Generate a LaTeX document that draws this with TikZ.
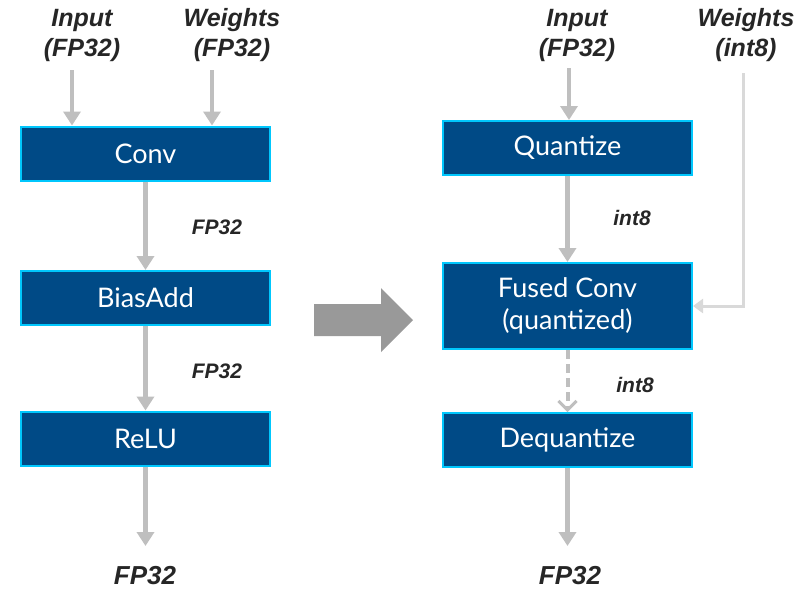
\documentclass[tikz,border=0pt]{standalone}
\usepackage{fontspec}
\setmainfont{Lato}
\newfontfamily\lblfont{Liberation Sans}
\usetikzlibrary{arrows.meta}
\definecolor{opblue}{HTML}{004A86}
\definecolor{opedge}{HTML}{00C7FD}
\definecolor{flowgray}{HTML}{BFBFBF}
\definecolor{wgray}{HTML}{D9D9D9}
\definecolor{bigray}{HTML}{999999}
\definecolor{lblink}{HTML}{262626}

\begin{document}
\begin{tikzpicture}[
  x=1pt, y=-1pt,
  op/.style    = {rectangle, draw=opedge, line width=2pt, fill=opblue,
                  text=white, font=\fontsize{27}{32}\selectfont, align=center,
                  minimum width=249pt, minimum height=54pt, inner sep=0pt},
  tag/.style   = {font=\lblfont\bfseries\itshape\fontsize{25}{30}\selectfont,
                  text=lblink, align=center, inner sep=0pt},
  midtag/.style= {tag, font=\lblfont\bfseries\itshape\fontsize{21}{24}\selectfont},
  endtag/.style= {tag, font=\lblfont\bfseries\itshape\fontsize{26}{30}\selectfont},
  flow/.style  = {-{Triangle[length=14pt,width=17pt]}, draw=flowgray, line width=4.5pt},
  wflow/.style = {-{Triangle[length=10pt,width=14pt]}, draw=wgray, line width=3pt},
  dflow/.style = {-{Straight Barb[length=9pt,width=18pt,line width=3pt]}, draw=flowgray,
                  line width=4pt, dash pattern=on 9pt off 5pt},
]
\useasboundingbox (0,0) rectangle (811,590);

% FP32 graph
\node[tag] (inl) at (82,35)  {Input\\(FP32)};
\node[tag] (wl)  at (232,35) {Weights\\(FP32)};
\node[op] (conv) at (145.5,153.5) {Conv};
\node[op] (bias) at (145.5,298)   {BiasAdd};
\node[op] (relu) at (145.5,438.5) {ReLU};
\node[midtag] (t1) at (217,227) {FP32};
\node[midtag] (t2) at (217,371) {FP32};
\node[endtag] (outl) at (145,576) {FP32};
\coordinate (a1) at (72,70);
\coordinate (a2) at (212,70);
\coordinate (a3) at (145.5,546);
\draw[flow] (a1) -- (a1 |- conv.north);
\draw[flow] (a2) -- (a2 |- conv.north);
\draw[flow] (conv) -- (bias);
\draw[flow] (bias) -- (relu);
\draw[flow] (relu) -- (a3);

% big arrow
\fill[bigray] (314,304) -- (381,304) -- (381,288) -- (413,320) -- (381,352)
  -- (381,336) -- (314,336) -- cycle;

% quantized graph
\node[tag] (inr) at (577,35) {Input\\(FP32)};
\node[tag] (wr)  at (746,35) {Weights\\(int8)};
\node[op] (quant)   at (567.5,148) {Quantize};
\node[op, minimum height=86pt] (fused) at (567.5,306) {Fused Conv\\(quantized)};
\node[op] (dequant) at (567.5,440) {Dequantize};
\node[midtag] (t3) at (632,218) {int8};
\node[midtag] (t4) at (635,385) {int8};
\node[endtag] (outr) at (570,576) {FP32};
\coordinate (b1) at (569,68);
\coordinate (b2) at (743,73);
\coordinate (b3) at (567.5,546);
\draw[flow] (b1) -- (b1 |- quant.north);
\draw[wflow] (b2) |- (fused.east);
\draw[flow] (quant) -- (fused);
\draw[dflow] (fused) -- (dequant);
\draw[flow] (dequant) -- (b3);
\end{tikzpicture}
\end{document}
